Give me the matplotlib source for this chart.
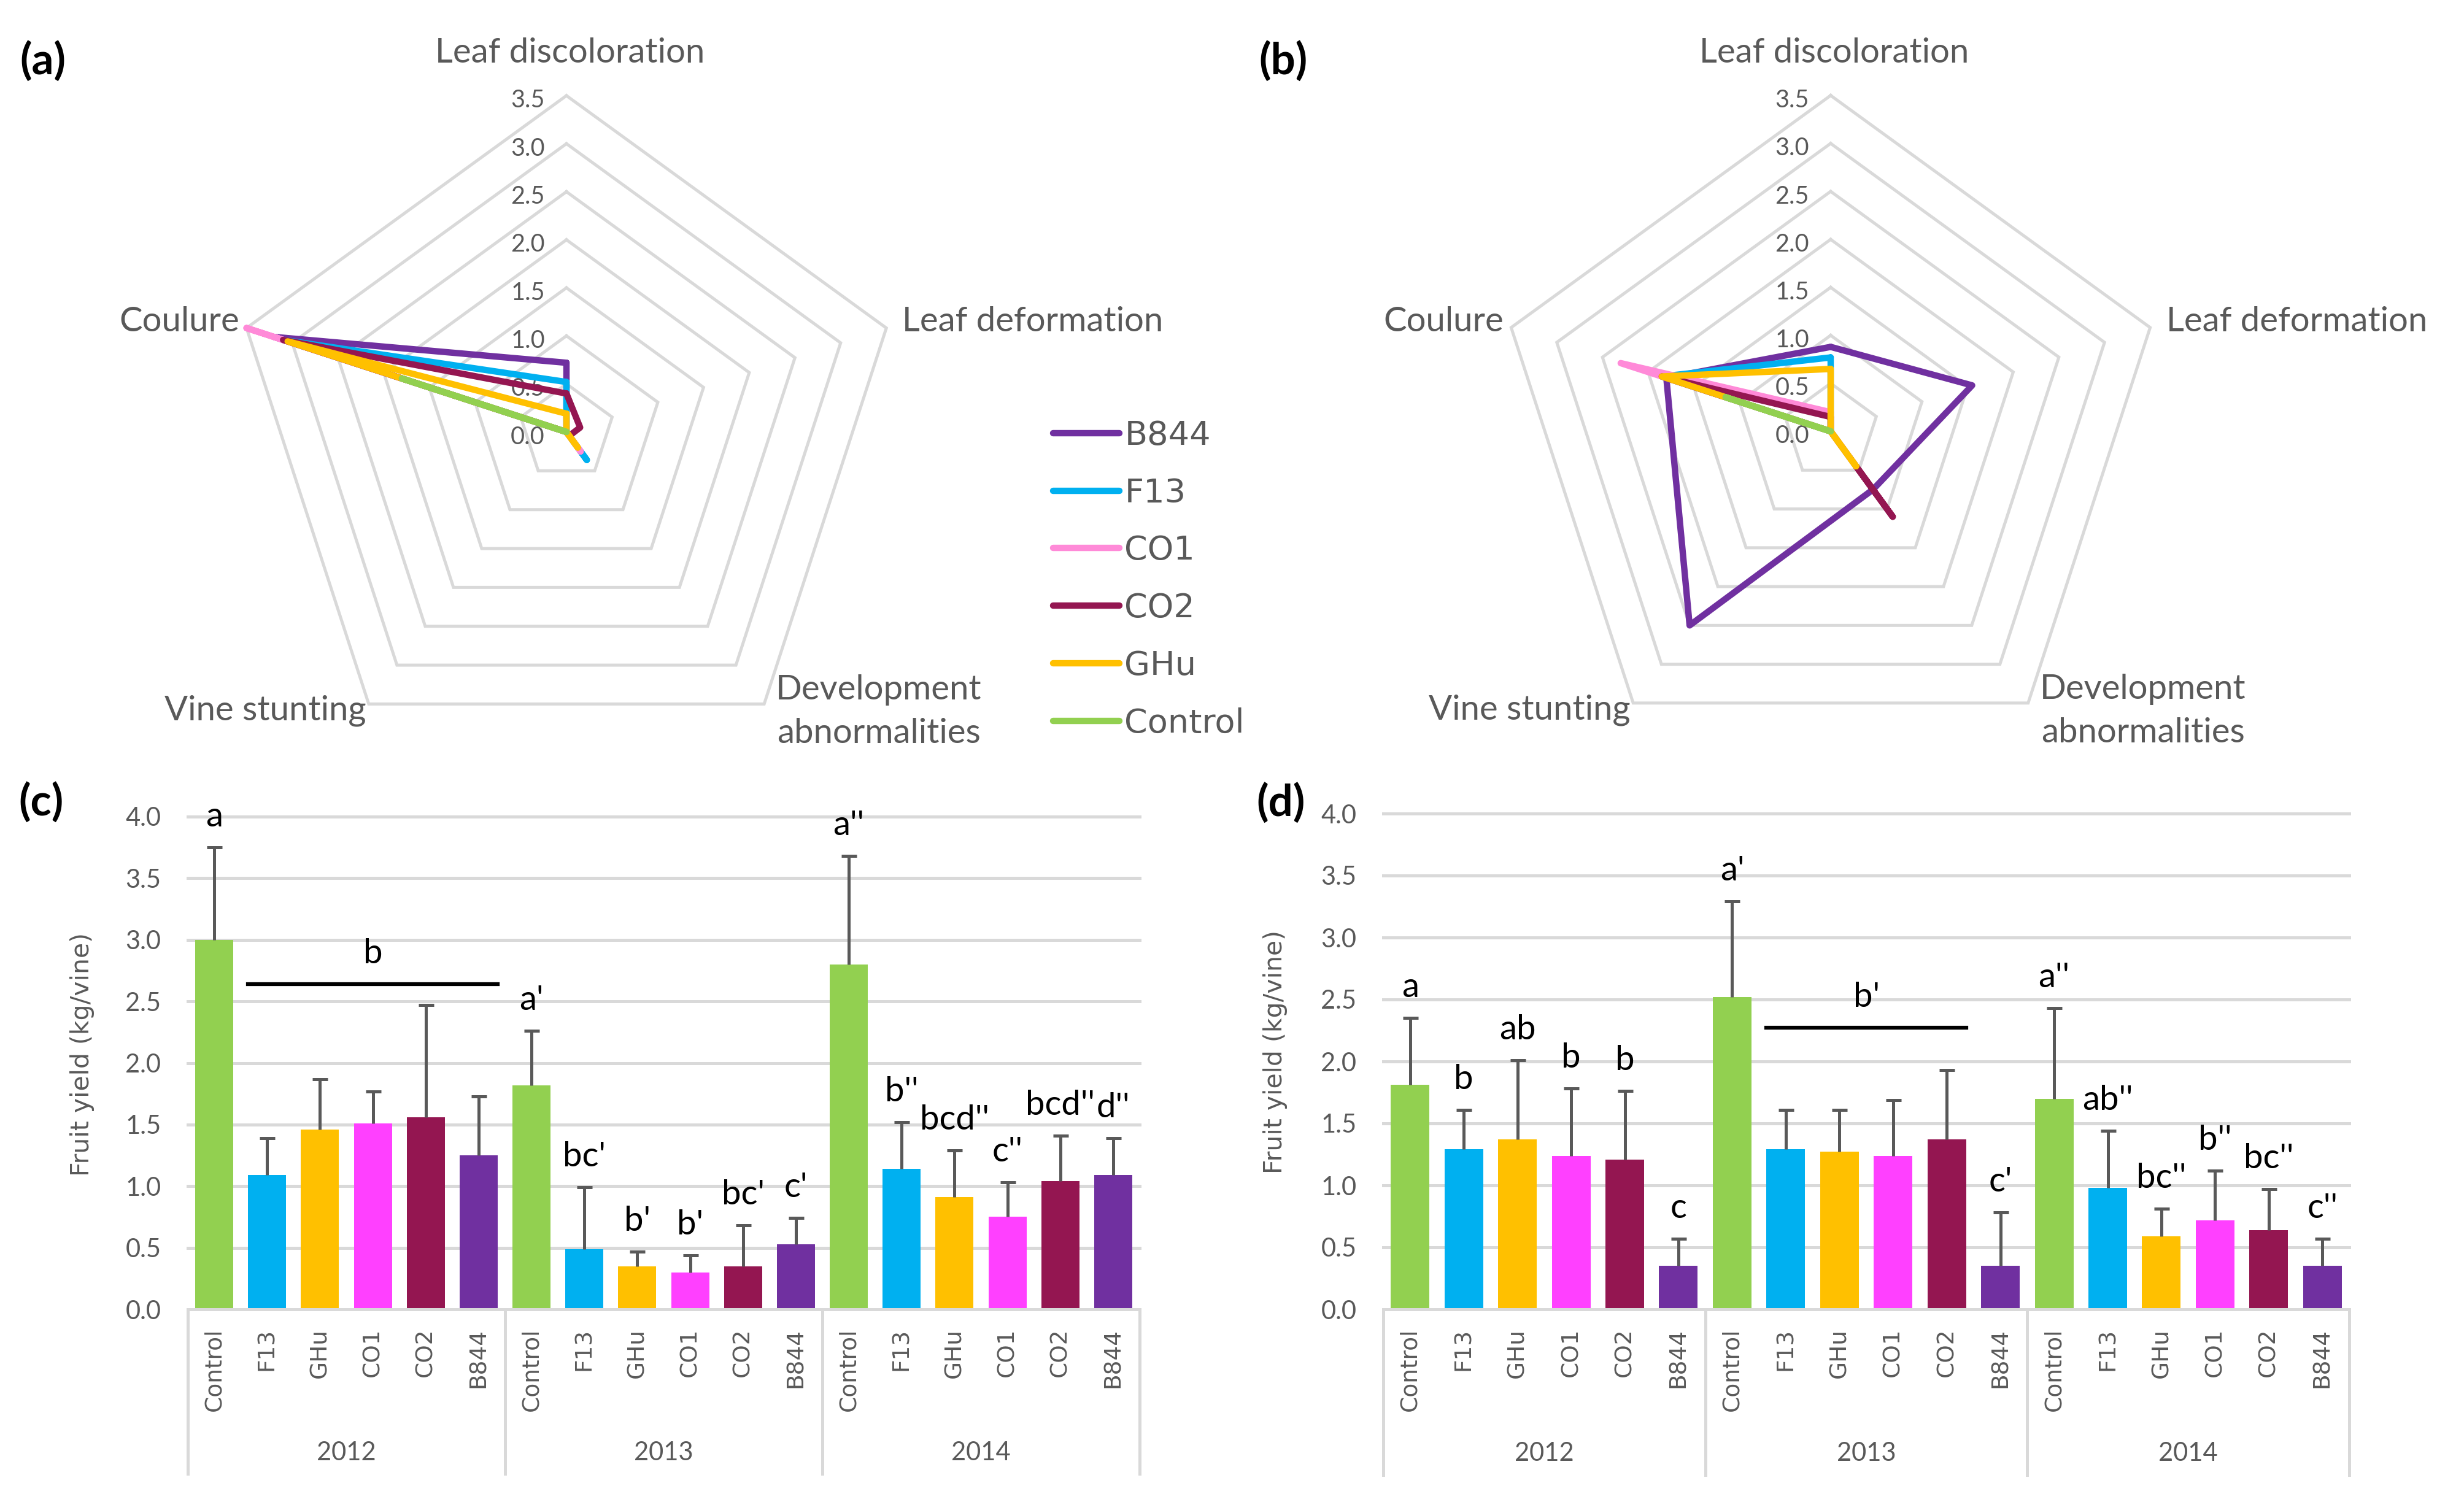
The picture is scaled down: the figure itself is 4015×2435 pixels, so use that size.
import numpy as np
import matplotlib
matplotlib.use("Agg")
import matplotlib.pyplot as plt
from matplotlib.transforms import blended_transform_factory

W, H = 4015, 2435
DPI = 300
GREY = "#595959"
GRID = "#d9d9d9"
plt.rcParams['font.family'] = ['Lato', 'DejaVu Sans']

# radar data: axes order is Leaf discoloration, Leaf deformation, Development, Vine stunting, Coulure
radar_labels = ["Leaf discoloration", "Leaf deformation", "Development\nabnormalities",
                "Vine stunting", "Coulure"]
series = ["B844", "F13", "CO1", "CO2", "GHu", "Control"]
series_colors = ["#7030A0", "#00B0F0", "#FF8AD8", "#941651", "#FFC000", "#92D050"]
radar_a = [
    [0.72, 0.0, 0.0, 0.0, 3.2],
    [0.52, 0.0, 0.36, 0.0, 3.1],
    [0.0, 0.0, 0.25, 0.0, 3.5],
    [0.40, 0.15, 0.05, 0.0, 3.1],
    [0.19, 0.0, 0.20, 0.0, 3.05],
    [0.0, 0.0, 0.0, 0.0, 1.8],
]
radar_b = [
    [0.88, 1.55, 0.75, 2.5, 1.8],
    [0.77, 0.0, 0.0, 0.0, 1.85],
    [0.20, 0.0, 0.0, 0.0, 2.3],
    [0.15, 0.0, 1.10, 0.0, 1.85],
    [0.65, 0.0, 0.45, 0.0, 1.85],
    [0.0, 0.0, 0.0, 0.0, 1.15],
]
radar_ticks = [0.0, 0.5, 1.0, 1.5, 2.0, 2.5, 3.0, 3.5]

# bar data
years = ["2012", "2013", "2014"]
treatments = ["Control", "F13", "GHu", "CO1", "CO2", "B844"]
bar_colors = ["#92D050", "#00B0F0", "#FFC000", "#FF40FF", "#941651", "#7030A0"]

yield_c = [3.00, 1.09, 1.46, 1.51, 1.56, 1.25,
           1.82, 0.49, 0.35, 0.30, 0.35, 0.53,
           2.80, 1.14, 0.91, 0.75, 1.04, 1.09]
sd_c = [0.75, 0.30, 0.41, 0.26, 0.91, 0.48,
        0.44, 0.50, 0.12, 0.14, 0.33, 0.21,
        0.88, 0.38, 0.38, 0.28, 0.37, 0.30]
letters_c = ["a", "", "", "", "", "",
             "a'", "bc'", "b'", "b'", "bc'", "c'",
             "a''", "b''", "bcd''", "c''", "bcd''", "d''"]
group_c = (1, 5, 2.64, "b")

yield_d = [1.81, 1.29, 1.37, 1.24, 1.21, 0.35,
           2.52, 1.29, 1.27, 1.24, 1.37, 0.35,
           1.70, 0.98, 0.59, 0.72, 0.64, 0.35]
sd_d = [0.54, 0.32, 0.64, 0.54, 0.55, 0.22,
        0.77, 0.32, 0.34, 0.45, 0.56, 0.43,
        0.73, 0.46, 0.22, 0.40, 0.33, 0.22]
letters_d = ["a", "b", "ab", "b", "b", "c",
             "a'", "", "", "", "", "c'",
             "a''", "ab''", "bc''", "b''", "bc''", "c''"]
group_d = (7, 10, 2.27, "b'")


def px_axes(fig, left, top, right, bottom):
    return fig.add_axes([left / W, 1 - bottom / H, (right - left) / W, (bottom - top) / H])


def draw_radar(fig, box, center, unit, values):
    left, top, right, bottom = box
    cx, cy = center
    ax = px_axes(fig, *box)
    ax.set_xlim((left - cx) / unit, (right - cx) / unit)
    ax.set_ylim((cy - bottom) / unit, (cy - top) / unit)
    ax.axis("off")

    ang = np.deg2rad(90 - 72 * np.arange(5))
    ux = np.append(np.cos(ang), np.cos(ang[0]))
    uy = np.append(np.sin(ang), np.sin(ang[0]))

    for lev in radar_ticks[1:]:
        ax.plot(ux * lev, uy * lev, color=GRID, lw=1.2, zorder=1, solid_joinstyle="miter")
    for lev in radar_ticks:
        ax.text(-35 / unit, lev - 8 / unit, f"{lev:.1f}", ha="right", va="center",
                fontsize=9.5, color=GREY, zorder=2)

    lines = []
    for name, col, vals in zip(series, series_colors, values):
        v = np.array(vals + vals[:1])
        ln, = ax.plot(v * ux, v * uy, color=col, lw=2.5, label=name, zorder=3,
                      solid_capstyle="round", solid_joinstyle="round")
        lines.append(ln)

    fs = 13.5
    ax.text(6 / unit, 617 / unit, radar_labels[0], ha="center", va="center", fontsize=fs, color=GREY)
    ax.text(547 / unit, 179 / unit, radar_labels[1], ha="left", va="center", fontsize=fs, color=GREY)
    ax.text(341 / unit, -456 / unit, radar_labels[2], ha="left", va="center", fontsize=fs,
            color=GREY, multialignment="center", linespacing=1.5)
    ax.text(-326 / unit, -454 / unit, radar_labels[3], ha="right", va="center", fontsize=fs, color=GREY)
    ax.text(-533 / unit, 179 / unit, radar_labels[4], ha="right", va="center", fontsize=fs, color=GREY)
    return ax, lines


def draw_bars(fig, box, means, sds, letters, group):
    ax = px_axes(fig, *box)
    n = len(means)
    x = np.arange(n)
    means = np.array(means)
    sds = np.array(sds)
    ax.bar(x, means, width=0.72, color=bar_colors * 3, zorder=2)
    eb = ax.errorbar(x, means, yerr=[np.zeros(n), sds], fmt="none", ecolor=GREY,
                     elinewidth=1.2, capsize=3, capthick=1.2, zorder=3)
    eb[1][0].set_visible(False)

    ax.set_xlim(-0.5, n - 0.5)
    ax.set_ylim(0, 4.0)
    ax.set_yticks(np.arange(0, 4.01, 0.5))
    ax.set_yticklabels([f"{v:.1f}" for v in np.arange(0, 4.01, 0.5)], fontsize=10, color=GREY)
    ax.grid(axis="y", color=GRID, lw=1.2, zorder=0, clip_on=False)
    ax.set_axisbelow(True)
    for s in ["top", "right", "left"]:
        ax.spines[s].set_visible(False)
    ax.spines["bottom"].set_color(GRID)
    ax.spines["bottom"].set_linewidth(1.2)

    ax.set_xticks(x)
    ax.set_xticklabels(treatments * 3, rotation=90, fontsize=9, color=GREY,
                       family="DejaVu Sans", va="top")
    ax.tick_params(axis="x", length=0, pad=7.4)
    ax.tick_params(axis="y", length=0, pad=10.5)

    for i in range(n):
        if letters[i]:
            ax.text(i, means[i] + sds[i] + 0.12, letters[i], ha="center", va="bottom",
                    fontsize=13.5, color="black")

    g0, g1, gy, glab = group
    ax.plot([g0 - 0.36, g1 + 0.36], [gy, gy], color="black", lw=1.5, zorder=4)
    ax.text((g0 + g1) / 2, gy + 0.12, glab, ha="center", va="bottom", fontsize=13.5, color="black")

    trans = blended_transform_factory(ax.transData, ax.transAxes)
    for k in range(len(years) + 1):
        xs = 6 * k - 0.5
        ax.plot([xs, xs], [0, -0.334], transform=trans, clip_on=False, color=GRID, lw=1.2)
    for k, yr in enumerate(years):
        ax.text(6 * k + 2.5, -0.291, yr, transform=trans, ha="center", va="center",
                fontsize=10, color=GREY)
    return ax


fig = plt.figure(figsize=(W / DPI, H / DPI), dpi=DPI)

ax_a, lines_a = draw_radar(fig, (0, 0, 2000, 1250), (923, 704), 156.6, radar_a)
ax_b, _ = draw_radar(fig, (2000, 0, W, 1250), (2983, 703), 156.4, radar_b)
ax_a.legend(handles=lines_a, loc="upper left", bbox_to_anchor=(1716 / W, 1 - 684 / H),
            bbox_transform=fig.transFigure, frameon=False, labelcolor=GREY,
            prop=dict(family="DejaVu Sans", size=13), handlelength=2.0,
            handletextpad=0.15, labelspacing=0.77, borderpad=0, borderaxespad=0)

ax_c = draw_bars(fig, (306, 1331, 1857, 2134), yield_c, sd_c, letters_c, group_c)
ax_d = draw_bars(fig, (2254, 1326, 3828, 2134), yield_d, sd_d, letters_d, group_d)
ax_c.text(-0.111, 0.517, "Fruit yield (kg/vine)", transform=ax_c.transAxes, rotation=90,
          ha="center", va="center", fontsize=9.8, color=GREY, family="DejaVu Sans")
ax_d.text(-0.112, 0.519, "Fruit yield (kg/vine)", transform=ax_d.transAxes, rotation=90,
          ha="center", va="center", fontsize=9.8, color=GREY, family="DejaVu Sans")

for lab, px, py in [("(a)", 70, 99), ("(b)", 2091, 99), ("(c)", 67, 1307), ("(d)", 2087, 1308)]:
    fig.text(px / W, 1 - py / H, lab, ha="center", va="center", fontsize=17,
             fontweight="bold", color="black")

fig.savefig("out.png", dpi=DPI)
